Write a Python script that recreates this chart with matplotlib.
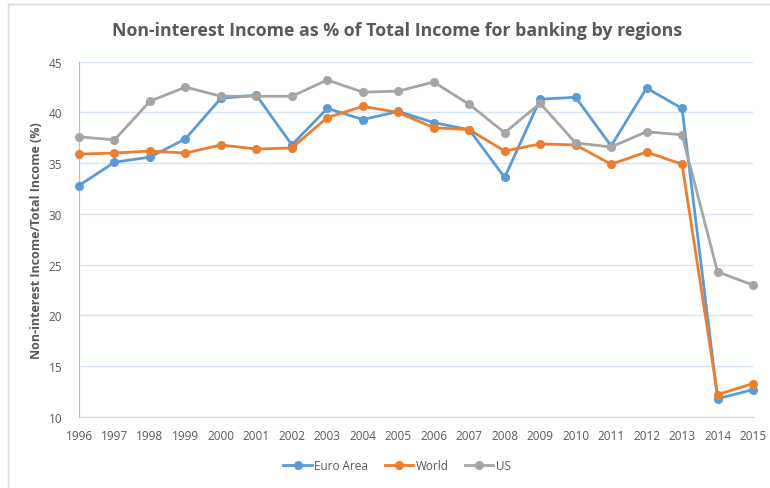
import matplotlib.pyplot as plt
import numpy as np
from matplotlib.lines import Line2D

years = list(range(1996, 2016))
euro_area = [32.8, 35.1, 35.6, 37.4, 41.4, 41.7, 36.8, 40.4, 39.3, 40.1,
             39.0, 38.3, 33.6, 41.3, 41.5, 36.7, 42.4, 40.4, 11.8, 12.7]
world = [35.9, 36.0, 36.2, 36.0, 36.8, 36.4, 36.5, 39.5, 40.6, 40.0,
         38.5, 38.3, 36.2, 36.9, 36.8, 34.9, 36.1, 34.9, 12.2, 13.3]
us = [37.6, 37.3, 41.1, 42.5, 41.6, 41.6, 41.6, 43.2, 42.0, 42.1,
      43.0, 40.8, 38.0, 40.9, 37.0, 36.6, 38.1, 37.8, 24.3, 23.0]

series = [("Euro Area", euro_area, "#5b9bd5"),
          ("World", world, "#ed7d31"),
          ("US", us, "#a5a5a5")]

plt.rcParams['font.family'] = ['Open Sans', 'DejaVu Sans']
txt = '#595959'

fig = plt.figure(figsize=(7.7, 4.89), dpi=100)
ax = fig.add_axes([79 / 770, 1 - 418 / 489, (753 - 79) / 770, (418 - 62.7) / 489])

# chart frame (top and left edges only)
fig.add_artist(Line2D([8 / 770, 1], [1 - 5 / 489] * 2, color='#d9d9d9', lw=1))
fig.add_artist(Line2D([8 / 770] * 2, [0, 1 - 5 / 489], color='#d9d9d9', lw=1))

for name, vals, col in series:
    ax.plot(years, vals, color=col, lw=2, marker='o', markersize=5.5,
            label=name, zorder=3, clip_on=False)

ax.set_xlim(1996, 2015)
ax.set_ylim(10, 45)
ax.set_xticks(years)
ax.set_yticks(np.arange(10, 46, 5))
ax.yaxis.grid(True, color='#d6e4f3', lw=1)
ax.set_axisbelow(True)
ax.tick_params(length=0, labelsize=8.5, colors=txt)
ax.tick_params(axis='x', pad=9)
ax.tick_params(axis='y', pad=12)
for s in ['top', 'right']:
    ax.spines[s].set_visible(False)
ax.spines['left'].set_color('#bfbfbf')
ax.spines['bottom'].set_color('#d0d0d0')

ax.set_ylabel('Non-interest Income/Total Income (%)', fontsize=9,
              fontweight='bold', color=txt, labelpad=4)
fig.text(397 / 770, 1 - 31 / 489,
         'Non-interest Income as % of Total Income for banking by regions',
         ha='center', va='center', fontsize=12.8, fontweight='bold', color=txt)

fig.legend(loc='center', bbox_to_anchor=(397 / 770, 1 - 467 / 489), ncol=3,
           frameon=False, fontsize=8.5, labelcolor=txt, handlelength=2.4,
           handletextpad=0.2, columnspacing=1.4)

fig.savefig('out.png', dpi=100)
